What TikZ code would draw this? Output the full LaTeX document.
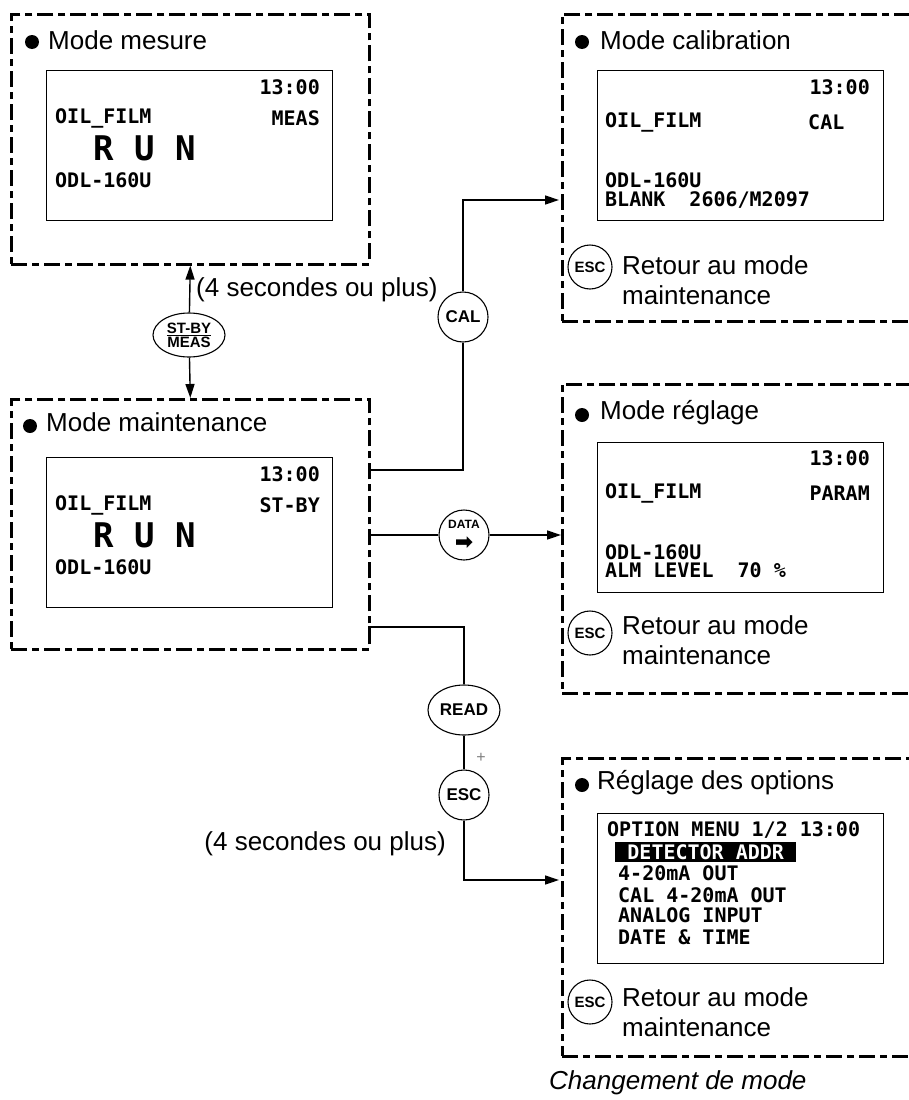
\documentclass[tikz,border=0pt]{standalone}
\usepackage{fontspec}
\setmainfont{Liberation Sans}
\setmonofont{DejaVu Sans Mono}
\newfontfamily\symfont{DejaVu Sans}
\usetikzlibrary{arrows.meta,shapes.geometric}

% Fonts for titles, LCD screens and keys
\newcommand{\titlefont}{\fontsize{26}{30}\selectfont}
\newcommand{\lcdfont}{\fontsize{20}{21}\selectfont\ttfamily\bfseries}
\newcommand{\runfont}{\fontsize{34}{34}\selectfont\ttfamily\bfseries}
\newcommand{\keyfont}{\fontsize{17}{17}\selectfont\bfseries}

\tikzset{
  modebox/.style={draw, line width=2.6pt, dash pattern=on 16pt off 5pt on 7pt off 5pt,
    anchor=north west, inner sep=0pt},
  screen/.style={draw, line width=1.4pt, anchor=north west, inner sep=0pt,
    minimum width=286pt, minimum height=150pt},
  title/.style={anchor=west, font=\titlefont, inner sep=0pt},
  note/.style={font=\titlefont, inner sep=0pt},
  lcd/.style={anchor=west, font=\lcdfont, inner sep=0pt},
  lcdr/.style={anchor=east, font=\lcdfont, inner sep=0pt},
  dotmark/.style={fill, circle, minimum size=14pt, inner sep=0pt},
  key/.style={draw, circle, line width=1.1pt, minimum size=48pt, inner sep=0pt,
    font=\keyfont, align=center, fill=white},
  keyoval/.style={key, ellipse, minimum width=72pt, minimum height=46pt},
  esckey/.style={key, minimum size=44pt, font=\fontsize{15}{15}\selectfont\bfseries},
  back/.style={anchor=west, font=\titlefont, align=left, inner sep=0pt},
  link/.style={line width=1.4pt},
  tip/.style={-{Triangle[length=14pt,width=9pt]}}
}

\begin{document}
\begin{tikzpicture}[x=1pt, y=-1pt]
  \useasboundingbox (0,0) rectangle (908,1100);

  % Mode boxes (right ones run off the page)
  \node[modebox, minimum width=358pt, minimum height=250pt] (mesure) at (10,13) {};
  \node[modebox, minimum width=358pt, minimum height=250pt] (maint) at (10,398) {};
  \node[modebox, minimum width=400pt, minimum height=307pt] (calib) at (561,13) {};
  \node[modebox, minimum width=400pt, minimum height=309pt] (regl) at (561,383) {};
  \node[modebox, minimum width=400pt, minimum height=298pt] (optn) at (561,757) {};

  % Titles
  \node[dotmark] (bMes) at (32,42) {};
  \node[title] (tMes) at (48,40) {Mode mesure};
  \node[dotmark] (bMnt) at (30,426) {};
  \node[title] (tMnt) at (46,422) {Mode maintenance};
  \node[dotmark] (bCal) at (582,42) {};
  \node[title] (tCal) at (600,40) {Mode calibration};
  \node[dotmark] (bReg) at (582,415) {};
  \node[title] (tReg) at (600,413) {Mode réglage};
  \node[dotmark] (bOpt) at (582,785) {};
  \node[title] (tOpt) at (597,783) {Réglage des options};

  % Screens
  \node[screen] (scrMes) at (46,70) {};
  \node[screen] (scrMnt) at (46,457) {};
  \node[screen] (scrCal) at (597,70) {};
  \node[screen] (scrReg) at (597,442) {};
  \node[screen] (scrOpt) at (597,813) {};

  % Mode mesure screen
  \node[lcdr] (mesTime) at (320,87) {13:00};
  \node[lcd] (mesOil) at (55,118) {OIL\_FILM};
  \node[lcdr] (mesState) at (320,118) {MEAS};
  \node[lcd, font=\runfont] (mesRun) at (93,148) {R U N};
  \node[lcd] (mesOdl) at (55,180) {ODL-160U};

  % Mode maintenance screen
  \node[lcdr] (mntTime) at (320,474) {13:00};
  \node[lcd] (mntOil) at (55,505) {OIL\_FILM};
  \node[lcdr] (mntState) at (320,505) {ST-BY};
  \node[lcd, font=\runfont] (mntRun) at (93,535) {R U N};
  \node[lcd] (mntOdl) at (55,567) {ODL-160U};

  % Mode calibration screen
  \node[lcdr] (calTime) at (870,87) {13:00};
  \node[lcd] (calOil) at (605,122) {OIL\_FILM};
  \node[lcd] (calState) at (808,122) {CAL};
  \node[lcd] (calOdl) at (605,180) {ODL-160U};
  \node[lcd] (calBlank) at (605,200) {BLANK\ \ 2606/M2097};

  % Mode reglage screen
  \node[lcdr] (regTime) at (870,458) {13:00};
  \node[lcd] (regOil) at (605,493) {OIL\_FILM};
  \node[lcdr] (regState) at (870,493) {PARAM};
  \node[lcd] (regOdl) at (605,552) {ODL-160U};
  \node[lcd] (regAlm) at (605,570) {ALM LEVEL\ \ 70 \%};

  % Option menu screen
  \node[lcd] (optHead) at (607,830) {OPTION MENU 1/2 13:00};
  \node[lcd, fill=black, text=white, inner xsep=3pt, inner ysep=2pt,
    minimum width=181pt] (optSel) at (615,852) {DETECTOR ADDR};
  \node[lcd] (optOut) at (618,873) {4-20mA OUT};
  \node[lcd] (optCal) at (618,895) {CAL 4-20mA OUT};
  \node[lcd] (optAna) at (618,915) {ANALOG INPUT};
  \node[lcd] (optDate) at (618,937) {DATE \& TIME};

  % Return keys inside the boxes
  \node[esckey] (escCal) at (590,267) {ESC};
  \node[back] (retCal) at (622,280) {Retour au mode\\maintenance};
  \node[esckey] (escReg) at (590,633) {ESC};
  \node[back] (retReg) at (622,640) {Retour au mode\\maintenance};
  \node[esckey] (escOpt) at (590,1002) {ESC};
  \node[back] (retOpt) at (622,1012) {Retour au mode\\maintenance};

  % Keys on the connectors
  \node[keyoval, minimum height=44pt, font=\fontsize{15}{15}\selectfont\bfseries]
    (stby) at (189,335) {\underline{ST-BY}\\[-1pt]MEAS};
  \node[key, minimum size=50pt] (cal) at (463,317) {CAL};
  \node[key, minimum size=50pt] (data) at (464,535)
    {\fontsize{12}{12}\selectfont DATA\\[4pt]{\symfont\fontsize{22}{16}\selectfont ➡}};
  \node[keyoval, minimum height=50pt] (read) at (464,710) {READ};
  \node[key, minimum size=50pt] (esc) at (464,795) {ESC};

  % Connectors
  \coordinate (calOut) at (368,470);
  \coordinate (calIn) at (559,200);
  \coordinate (readOut) at (368,627);
  \coordinate (optIn) at (559,880);
  \draw[link, tip] (stby) -- (mesure.south);
  \draw[link, tip] (stby) -- (maint.north);
  \draw[link] (calOut) -| (cal);
  \draw[link, tip] (cal) |- (calIn);
  \draw[link] (maint.east |- data) -- (data);
  \draw[link, tip] (data) -- (regl.west |- data);
  \draw[link] (readOut) -| (read);
  \draw[link] (read) -- (esc);
  \draw[link, tip] (esc) |- (optIn);

  % Notes
  \node[note, anchor=west] (holdUp) at (196,290) {(4 secondes ou plus)};
  \node[note, anchor=east] (holdDown) at (446,844) {(4 secondes ou plus)};
  \node[font=\fontsize{16}{16}\selectfont, text=gray] (plus) at (481,758) {+};
  \node[note, anchor=west, font=\titlefont\itshape] (caption) at (549,1083) {Changement de mode};
\end{tikzpicture}
\end{document}
